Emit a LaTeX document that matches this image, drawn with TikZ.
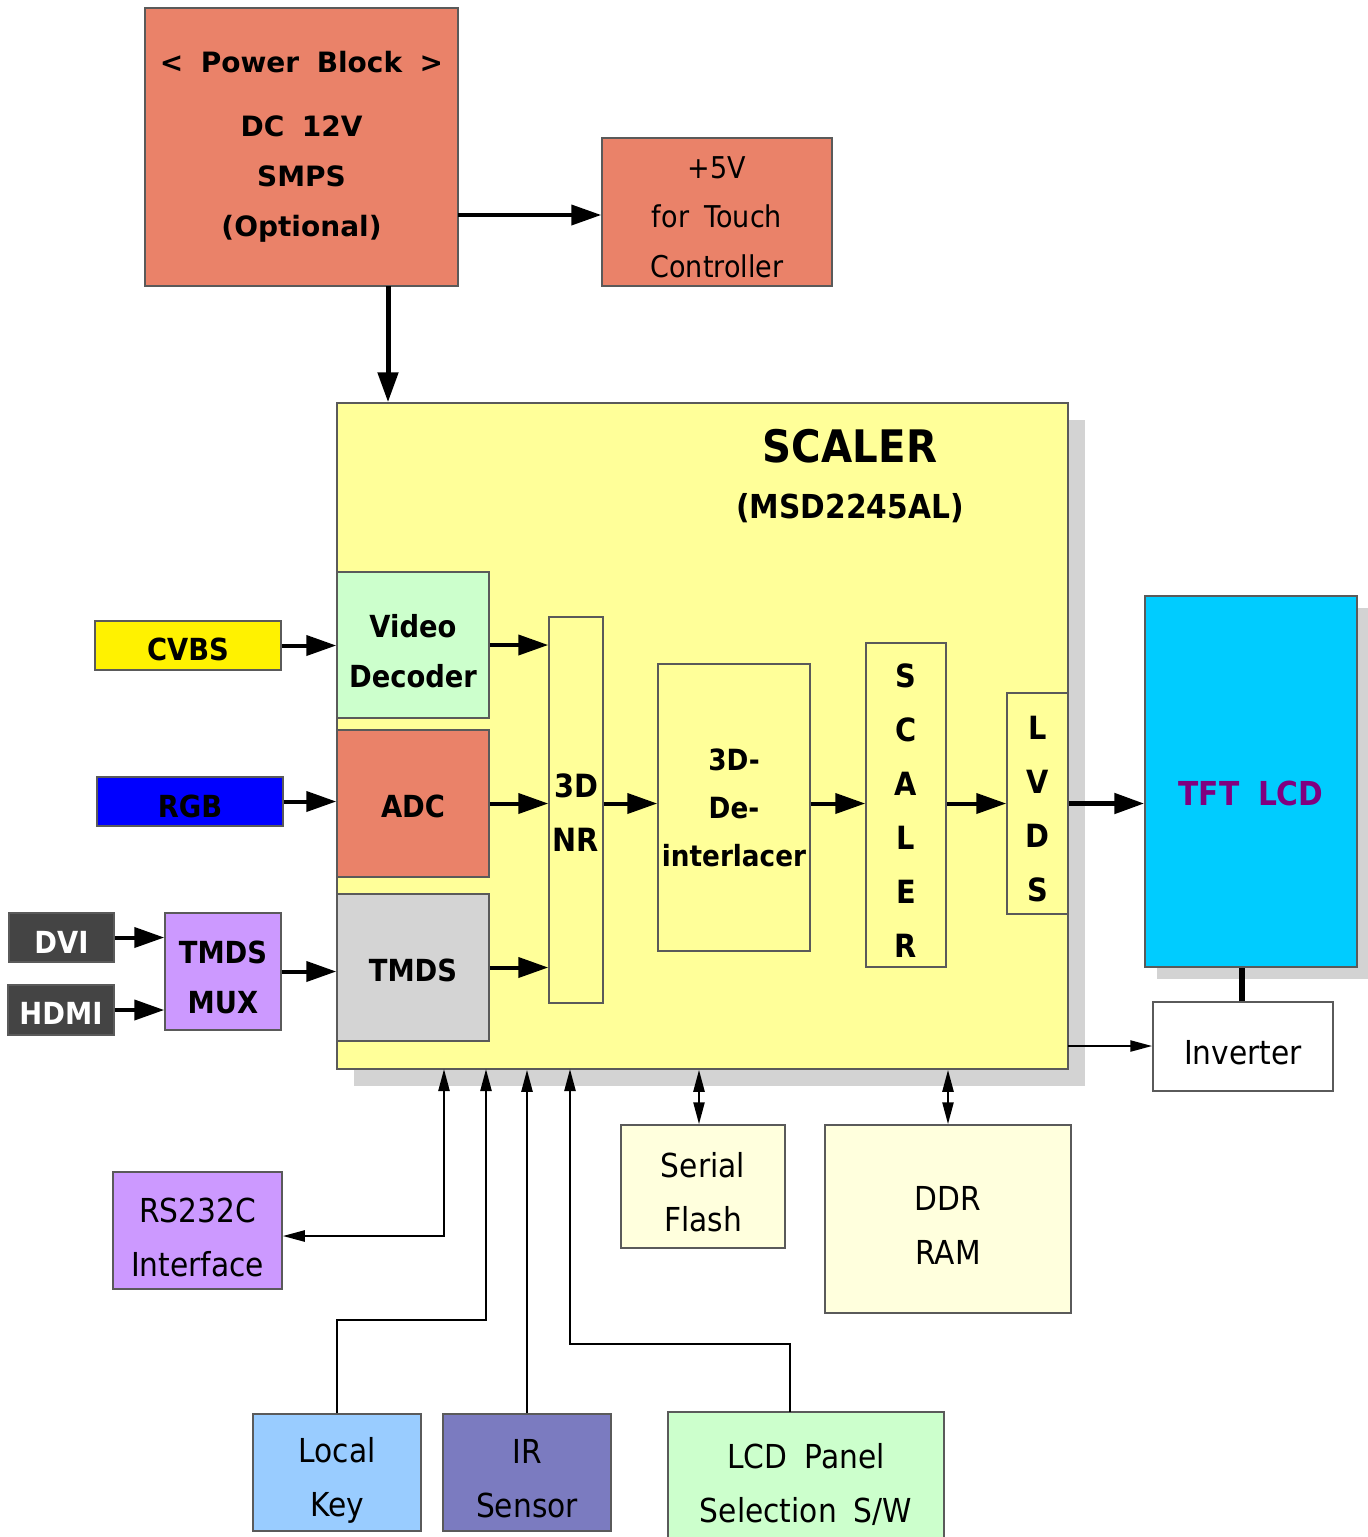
\documentclass[tikz,border=0pt]{standalone}
\usepackage{fontspec}
\usetikzlibrary{arrows.meta,shadows}
\newfontfamily\nfont[FakeStretch=0.9,WordSpace=1.8]{DejaVu Sans}
\newfontfamily\wfont[WordSpace=1.8]{DejaVu Sans}
\definecolor{salmon}{HTML}{EA8269}
\definecolor{scy}{HTML}{FFFF99}
\definecolor{lgreen}{HTML}{CCFFCC}
\definecolor{lgray}{HTML}{D4D4D4}
\definecolor{shad}{HTML}{D3D3D3}
\definecolor{tftc}{HTML}{00CCFF}
\definecolor{tftt}{HTML}{800080}
\definecolor{viol}{HTML}{CC99FF}
\definecolor{lblue}{HTML}{99CCFF}
\definecolor{irc}{HTML}{7B7BC0}
\definecolor{cream}{HTML}{FFFFDD}
\definecolor{dkg}{HTML}{444444}
\definecolor{bord}{HTML}{5A5A5A}
% #1 box style, #2 name, #3-#6 corners (px), #7 text style, #8 text
\newcommand\bx[8]{%
  \node[blk,#1,minimum width={(#5-#3)*0.5pt},minimum height={(#6-#4)*0.5pt}] (#2) at ({(#3+#5)/2},{(#4+#6)/2}) {};
  \node[tx,#7] (#2-t) at (#2.center) {#8};}
\tikzset{
  blk/.style={draw=bord, line width=0.75pt, inner sep=0pt},
  tx/.style={inner sep=0pt, align=center, yshift=-3pt},
  bfb/.style={font=\nfont\bfseries\fontsize{15.2}{25}\selectfont},
  vlet/.style={font=\nfont\bfseries\fontsize{16}{27}\selectfont},
  rgl/.style={font=\nfont\fontsize{16.5}{27}\selectfont},
  shd/.style={drop shadow={shadow xshift=#1, shadow yshift=-#1, fill=shad, opacity=1}},
  arrowbig/.style={line width=2pt, -{Triangle[length=15pt,width=10pt]}},
  arrowbigger/.style={line width=2.5pt, -{Triangle[length=15pt,width=10pt]}},
  arrowsm/.style={line width=1.2pt, -{Triangle[length=11pt,width=5.5pt]}},
  arrowboth/.style={line width=1.2pt, {Triangle[length=11pt,width=5.5pt]}-{Triangle[length=11pt,width=5.5pt]}},
}
\begin{document}
\begin{tikzpicture}[x=0.5pt,y=-0.5pt]
\useasboundingbox (0,0) rectangle (1368,1537);
\fill[white] (0,0) rectangle (1368,1537);
% power
\bx{fill=salmon}{power}{145}{8}{458}{286}{yshift=3pt,font=\wfont\bfseries\fontsize{14}{25}\selectfont}{< Power Block >\\[7pt] DC 12V\\ SMPS\\ (Optional)}
\bx{fill=salmon}{p5}{602}{138}{832}{286}{yshift=0.5pt,font=\nfont\fontsize{15}{24.75}\selectfont}{+5V\\ for Touch\\ Controller}
% scaler
\node[blk,fill=scy,shd=8.5pt,minimum width={731*0.5pt},minimum height={666*0.5pt}] (scaler) at ({(337+1068)/2},{(403+1069)/2}) {};
\node[font=\nfont\bfseries\fontsize{22.4}{26}\selectfont] (sctitle) at (850,446) {SCALER};
\node[font=\nfont\bfseries\fontsize{16.5}{20}\selectfont] (scpart) at (850,508) {(MSD2245AL)};
\bx{fill=lgreen}{vd}{337}{572}{489}{718}{bfb}{Video\\ Decoder}
\bx{fill=salmon}{adc}{337}{730}{489}{877}{bfb,yshift=1.5pt}{ADC}
\bx{fill=lgray}{tmds}{337}{894}{489}{1041}{bfb,yshift=1.5pt}{TMDS}
\bx{fill=scy}{nr}{549}{617}{603}{1003}{vlet,yshift=1.5pt}{3D\\ NR}
\bx{fill=scy}{deint}{658}{664}{810}{951}{font=\nfont\bfseries\fontsize{14.6}{24}\selectfont,yshift=3pt}{3D-\\ De-\\ interlacer}
\bx{fill=scy}{scl}{866}{643}{946}{967}{vlet}{S\\ C\\ A\\ L\\ E\\ R}
\bx{fill=scy}{lvds}{1007}{693}{1068}{914}{vlet,yshift=0pt}{L\\ V\\ D\\ S}
% display
\bx{fill=tftc,shd=6pt}{tft}{1145}{596}{1357}{967}{yshift=-3pt,text=tftt,font=\nfont\bfseries\fontsize{16.5}{20}\selectfont}{TFT LCD}
\bx{fill=white}{inv}{1153}{1002}{1333}{1091}{rgl}{Inverter}
% inputs
\bx{fill=yellow}{cvbs}{95}{621}{281}{670}{bfb,yshift=1pt}{CVBS}
\bx{fill=blue}{rgb}{97}{777}{283}{826}{bfb,yshift=0.5pt}{RGB}
\bx{fill=dkg}{dvi}{9}{913}{114}{962}{bfb,yshift=0.5pt,text=white}{DVI}
\bx{fill=dkg}{hdmi}{8}{985}{114}{1035}{bfb,yshift=1.5pt,text=white}{HDMI}
\bx{fill=viol}{mux}{165}{913}{281}{1030}{bfb}{TMDS\\ MUX}
% bottom
\bx{fill=viol}{rs}{113}{1172}{282}{1289}{rgl,yshift=-0.5pt}{RS232C\\ Interface}
\bx{fill=lblue}{lk}{253}{1414}{421}{1531}{rgl,yshift=-1pt}{Local\\ Key}
\bx{fill=irc}{ir}{443}{1414}{611}{1531}{rgl}{IR\\ Sensor}
\bx{fill=lgreen}{lp}{668}{1412}{944}{1545}{rgl}{LCD Panel\\ Selection S/W}
\bx{fill=cream}{sf}{621}{1125}{785}{1248}{rgl}{Serial\\ Flash}
\bx{fill=cream}{ddr}{825}{1125}{1071}{1313}{rgl}{DDR\\ RAM}
% connectors
\draw[arrowbig] (cvbs.east) -- (cvbs.east -| vd.west);
\draw[arrowbig] (rgb.east) -- (rgb.east -| adc.west);
\draw[arrowbig] (dvi.east) -- (dvi.east -| mux.west);
\draw[arrowbig] (hdmi.east) -- (hdmi.east -| mux.west);
\draw[arrowbig] (mux.east) -- (mux.east -| tmds.west);
\draw[arrowbig] (vd.east) -- (vd.east -| nr.west);
\draw[arrowbig] (adc.east) -- (adc.east -| nr.west);
\draw[arrowbig] (tmds.east) -- (tmds.east -| nr.west);
\draw[arrowbig] (adc.east -| nr.east) -- (adc.east -| deint.west);
\draw[arrowbig] (adc.east -| deint.east) -- (adc.east -| scl.west);
\draw[arrowbig] (adc.east -| scl.east) -- (adc.east -| lvds.west);
\draw[arrowbigger] (adc.east -| lvds.east) -- (adc.east -| tft.west);
\coordinate (pwr) at (458,215);
\draw[arrowbig] (pwr) -- (pwr -| p5.west);
\coordinate (pwout) at (388,286);
\draw[arrowbigger] (pwout) -- (pwout |- scaler.north);
\draw[line width=3pt] (inv.north -| 1242,0) -- (tft.south -| 1242,0);
\coordinate (invin) at (1068,1046);
\draw[arrowsm] (invin) -- (invin -| inv.west);
% bottom connectors
\coordinate (t1) at (444,1069);
\coordinate (t2) at (486,1069);
\coordinate (t4) at (570,1069);
\coordinate (lpo) at (790,1412);
\draw[arrowboth] (t1) -- (t1 |- 0,1236) -- (rs.east |- 0,1236);
\draw[arrowsm] (lk.north) -- (lk.north |- 0,1320) -- (t2 |- 0,1320) -- (t2);
\draw[arrowsm] (ir.north) -- (ir.north |- scaler.south);
\draw[arrowsm] (lpo) -- (lpo |- 0,1344) -- (t4 |- 0,1344) -- (t4);
\draw[arrowboth] (scaler.south -| 699,0) -- (sf.north -| 699,0);
\draw[arrowboth] (scaler.south -| ddr.north) -- (ddr.north);
\end{tikzpicture}
\end{document}
